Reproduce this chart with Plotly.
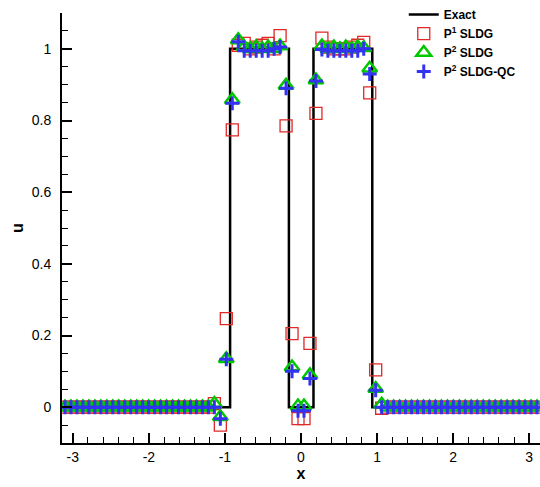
import numpy as np
import plotly.graph_objects as go

# Exact solution (step profile)
exact_x = [-np.pi, -0.932, -0.932, -0.159, -0.159, 0.164, 0.164, 0.937, 0.937, np.pi]
exact_u = [0, 0, 1, 1, 0, 0, 1, 1, 0, 0]

# mesh: 80 uniform cells on [-pi, pi], values at cell centres
n_cells = 80
xc = -np.pi + (np.arange(n_cells) + 0.5) * 2 * np.pi / n_cells

p1_sldg = [
    0, 0, 0, 0, 0, 0, 0, 0, 0, 0,
    0, 0, 0, 0, 0, 0, 0, 0, 0, 0,
    0, 0, 0, 0, 0, 0.01, -0.05, 0.247, 0.774, 1.01,
    1.015, 1.0, 1.005, 1.01, 1.015, 1.0, 1.037, 0.785, 0.205, -0.032,
    -0.032, 0.178, 0.82, 1.03, 1.005, 1.0, 1.0, 1.0, 1.005, 1.01,
    1.018, 0.877, 0.104, -0.003, 0, 0, 0, 0, 0, 0,
    0, 0, 0, 0, 0, 0, 0, 0, 0, 0,
    0, 0, 0, 0, 0, 0, 0, 0, 0, 0,
]
p2_sldg = [
    0, 0, 0, 0, 0, 0, 0, 0, 0, 0,
    0, 0, 0, 0, 0, 0, 0, 0, 0, 0,
    0, 0, 0, 0, 0, 0.01, -0.027, 0.135, 0.858, 1.025,
    1.005, 1.0, 1.005, 1.0, 1.005, 1.0, 1.008, 0.898, 0.112, 0.003,
    0.003, 0.09, 0.913, 1.008, 1.0, 1.005, 1.0, 1.005, 1.0, 1.005,
    1.003, 0.946, 0.052, 0.008, 0, 0, 0, 0, 0, 0,
    0, 0, 0, 0, 0, 0, 0, 0, 0, 0,
    0, 0, 0, 0, 0, 0, 0, 0, 0, 0,
]
p2_sldg_qc = [
    0, 0, 0, 0, 0, 0, 0, 0, 0, 0,
    0, 0, 0, 0, 0, 0, 0, 0, 0, 0,
    0, 0, 0, 0, 0, 0.0, -0.032, 0.134, 0.848, 1.02,
    0.995, 0.995, 0.995, 0.995, 0.995, 1.0, 1.005, 0.89, 0.10, -0.01,
    -0.01, 0.08, 0.91, 0.998, 0.995, 0.995, 0.995, 0.995, 0.995, 0.995,
    1.0, 0.93, 0.047, 0.0, 0, 0, 0, 0, 0, 0,
    0, 0, 0, 0, 0, 0, 0, 0, 0, 0,
    0, 0, 0, 0, 0, 0, 0, 0, 0, 0,
]

x_tickvals = [-3, -2, -1, 0, 1, 2, 3]
x_ticktext = ["-3", "-2", "-1", "0", "1", "2", "3"]
y_tickvals = [0, 0.2, 0.4, 0.6, 0.8, 1.0]
y_ticktext = ["0", "0.2", "0.4", "0.6", "0.8", "1"]

fig = go.Figure()
fig.add_trace(go.Scatter(x=exact_x, y=exact_u, mode="lines",
                         line=dict(color="black", width=2.5),
                         name="<b>Exact</b>"))
fig.add_trace(go.Scatter(x=xc, y=p1_sldg, mode="markers",
                         marker=dict(symbol="square-open", size=12,
                                     color="#e02828", line=dict(width=1.3, color="#e02828")),
                         name="<b>P<sup>1</sup> SLDG</b>"))
fig.add_trace(go.Scatter(x=xc, y=p2_sldg, mode="markers",
                         marker=dict(symbol="triangle-up-open", size=13,
                                     color="#00c800", line=dict(width=2.5, color="#00c800")),
                         name="<b>P<sup>2</sup> SLDG</b>"))
fig.add_trace(go.Scatter(x=xc, y=p2_sldg_qc, mode="markers",
                         marker=dict(symbol="cross-thin-open", size=10,
                                     color="#3232f0", line=dict(width=3, color="#3232f0")),
                         name="<b>P<sup>2</sup> SLDG-QC</b>"))

axis_font = dict(family="Liberation Sans, Arial, sans-serif", size=14, color="black")
fig.update_layout(
    width=540, height=487,
    margin=dict(l=62, r=0, t=9, b=44),
    plot_bgcolor="white", paper_bgcolor="white",
    font=axis_font,
    showlegend=True,
    legend=dict(x=0.715, y=1.03, xanchor="left", yanchor="top",
                bgcolor="rgba(0,0,0,0)", tracegroupgap=0,
                font=dict(family="Liberation Sans, Arial, sans-serif", size=12, color="black")),
    xaxis=dict(range=[-np.pi, np.pi], tickvals=x_tickvals, ticktext=x_ticktext,
               ticks="inside", ticklen=10, tickwidth=2, tickcolor="black",
               showline=True, linewidth=2, linecolor="black", mirror=False,
               showgrid=False, zeroline=False,
               minor=dict(dtick=0.2, tick0=0, ticks="inside", ticklen=6, tickwidth=1,
                          tickcolor="black", showgrid=False),
               title=dict(text="<b>x</b>", font=dict(size=16), standoff=4)),
    yaxis=dict(range=[-0.1, 1.1], tickvals=y_tickvals, ticktext=y_ticktext,
               ticks="inside", ticklen=10, tickwidth=2, tickcolor="black",
               showline=True, linewidth=2, linecolor="black", mirror=False,
               showgrid=False, zeroline=False, ticklabelstandoff=6,
               minor=dict(dtick=0.05, tick0=0, ticks="inside", ticklen=6, tickwidth=1,
                          tickcolor="black", showgrid=False),
               title=dict(text="<b>u</b>", font=dict(size=16), standoff=4)),
)

fig.write_html("out.html")
